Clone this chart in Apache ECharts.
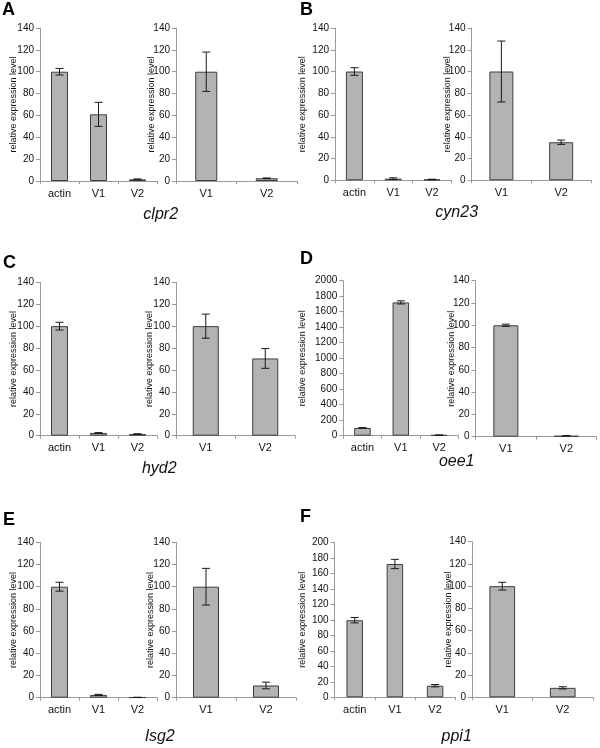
<!DOCTYPE html>
<html><head><meta charset="utf-8">
<script src="https://cdn.jsdelivr.net/npm/echarts@6/dist/echarts.min.js"></script>
<style>html,body{margin:0;padding:0;background:#fff}#c{width:600px;height:748px}</style>
</head><body><div id="c"></div>
<script>
// ---- categories ----
const catsAll = ['actin', 'V1', 'V2'];
const catsVar = ['V1', 'V2'];
// ---- panel letters and gene names ----
const panelLetters = ['A', 'B', 'C', 'D', 'E', 'F'];
const geneNames = ['clpr2', 'cyn23', 'hyd2', 'oee1', 'lsg2', 'ppi1'];
// ---- values (mean, error) ----
const clpr2AllMean = [100, 61, 1.5];   const clpr2AllErr = [3, 11, 0.4];
const clpr2VarMean = [100, 2.5];       const clpr2VarErr = [18, 0.3];
const cyn23AllMean = [100, 1.5, 0.8];  const cyn23AllErr = [3.5, 0.8, 0.2];
const cyn23VarMean = [100, 35];        const cyn23VarErr = [28, 2];
const hyd2AllMean  = [100, 2.5, 1.5];  const hyd2AllErr  = [3.5, 0.3, 0.3];
const hyd2VarMean  = [100, 70.5];      const hyd2VarErr  = [11, 9];
const oee1AllMean  = [100, 1720, 8];   const oee1AllErr  = [5, 20, 2];
const oee1VarMean  = [100, 0.8];       const oee1VarErr  = [1, 0.2];
const lsg2AllMean  = [100, 2.5, 0.3];  const lsg2AllErr  = [4, 0.5, 0.1];
const lsg2VarMean  = [100, 11];        const lsg2VarErr  = [16.5, 3];
const ppi1AllMean  = [99.5, 172, 15];  const ppi1AllErr  = [3.5, 6, 1.5];
const ppi1VarMean  = [100, 8.5];       const ppi1VarErr  = [3.5, 1];
// ---- y axis scales ----
const yMaxAll = [140, 140, 140, 2000, 140, 200];
const yStepAll = [20, 20, 20, 200, 20, 20];
const yMaxVar = [140, 140, 140, 140, 140, 140];
const yStepVar = [20, 20, 20, 20, 20, 20];
const yAxisTitle = 'relative expression level';

const allMeans = [clpr2AllMean, cyn23AllMean, hyd2AllMean, oee1AllMean, lsg2AllMean, ppi1AllMean];
const allErrs  = [clpr2AllErr, cyn23AllErr, hyd2AllErr, oee1AllErr, lsg2AllErr, ppi1AllErr];
const varMeans = [clpr2VarMean, cyn23VarMean, hyd2VarMean, oee1VarMean, lsg2VarMean, ppi1VarMean];
const varErrs  = [clpr2VarErr, cyn23VarErr, hyd2VarErr, oee1VarErr, lsg2VarErr, ppi1VarErr];

// ---- layout (positions only) ----
// [left, top, width, height, barWidth, nameGap]
const layAll = [
  [40, 28, 117, 153, 17, 22],
  [335, 28, 116.4, 152.3, 17, 28],
  [40, 282.3, 117, 153.4, 17, 22],
  [343.3, 280.7, 115, 155, 16.5, 36],
  [40, 542.3, 117, 155.4, 17, 22],
  [334.6, 542.3, 120.6, 155, 16.5, 28]
];
const layVar = [
  [176, 28, 121, 153, 22, 20],
  [471.5, 28, 119.5, 152.3, 24, 19.5],
  [176, 282.3, 119, 153.4, 26, 22],
  [475.6, 280.7, 121, 156, 25, 20],
  [176, 542.3, 120, 155.4, 26, 21],
  [472, 541.7, 121, 155.6, 25.7, 19]
];
const letterPos = [[2, 10], [300, 10], [3, 263], [300, 259], [3, 520], [300, 517]];
const genePos = [[160.7, 215], [456.7, 213], [159.3, 469], [456.7, 462], [160, 737], [456.7, 737]];

const FONT = '"Liberation Sans", Arial, sans-serif';
const axisCol = '#9a9a9a';
const grids = [], xAxes = [], yAxes = [], series = [];

function addChart(cats, means, errs, yMax, yStep, lay) {
  const idx = grids.length;
  grids.push({left: lay[0], top: lay[1], width: lay[2], height: lay[3], containLabel: false});
  xAxes.push({
    type: 'category', gridIndex: idx, data: cats,
    axisLine: {lineStyle: {color: axisCol, width: 1}},
    axisTick: {show: true, length: 3, lineStyle: {color: axisCol}},
    axisLabel: {color: '#111', fontSize: 11, fontFamily: FONT, margin: 7}
  });
  yAxes.push({
    type: 'value', gridIndex: idx, min: 0, max: yMax, interval: yStep,
    name: yAxisTitle, nameLocation: 'middle', nameGap: lay[5], nameMoveOverlap: false,
    nameTextStyle: {color: '#111', fontSize: 9, fontFamily: FONT},
    axisLine: {show: true, lineStyle: {color: axisCol, width: 1}},
    axisTick: {show: true, length: 4, lineStyle: {color: axisCol}},
    splitLine: {show: false},
    axisLabel: {color: '#111', fontSize: 10, fontFamily: FONT, margin: 6,
      formatter: function (v) { return String(v); }}
  });
  series.push({
    type: 'bar', xAxisIndex: idx, yAxisIndex: idx, data: means, barWidth: lay[4],
    itemStyle: {color: '#b3b3b3', borderColor: '#3d3d3d', borderWidth: 1},
    silent: true, animation: false
  });
  series.push({
    type: 'custom', xAxisIndex: idx, yAxisIndex: idx,
    data: means.map((m, i) => [i, m, errs[i]]),
    renderItem: function (params, api) {
      const x = api.value(0), y = api.value(1), e = api.value(2);
      const p1 = api.coord([x, y + e]);
      const p2 = api.coord([x, y - e]);
      const h = 4;
      const st = {stroke: '#1a1a1a', lineWidth: 1};
      return {type: 'group', children: [
        {type: 'line', shape: {x1: p1[0], y1: p1[1], x2: p2[0], y2: p2[1]}, style: st},
        {type: 'line', shape: {x1: p1[0] - h, y1: p1[1], x2: p1[0] + h, y2: p1[1]}, style: st},
        {type: 'line', shape: {x1: p2[0] - h, y1: p2[1], x2: p2[0] + h, y2: p2[1]}, style: st}
      ]};
    },
    z: 5, silent: true, animation: false
  });
}

for (let k = 0; k < 6; k++) {
  addChart(catsAll, allMeans[k], allErrs[k], yMaxAll[k], yStepAll[k], layAll[k]);
  addChart(catsVar, varMeans[k], varErrs[k], yMaxVar[k], yStepVar[k], layVar[k]);
}

const graphics = [];
for (let k = 0; k < 6; k++) {
  graphics.push({type: 'text', left: letterPos[k][0], top: letterPos[k][1] - 9,
    style: {text: panelLetters[k], font: 'bold 18px ' + FONT, fill: '#000'}});
  graphics.push({type: 'text', x: genePos[k][0], y: genePos[k][1],
    style: {text: geneNames[k], font: 'italic 16px ' + FONT, fill: '#111', align: 'center', verticalAlign: 'middle'}});
}

const chart = echarts.init(document.getElementById('c'), null, {renderer: 'canvas'});
chart.setOption({
  animation: false,
  backgroundColor: '#fff',
  grid: grids, xAxis: xAxes, yAxis: yAxes, series: series,
  graphic: graphics
});
</script></body></html>
